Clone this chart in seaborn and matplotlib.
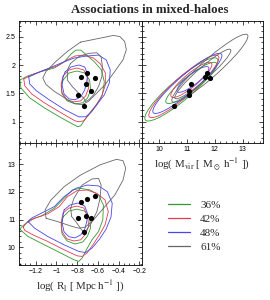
import numpy as np
import matplotlib
matplotlib.use("Agg")
import matplotlib.pyplot as plt
import seaborn as sns
from matplotlib.patches import Ellipse
from matplotlib.lines import Line2D
from matplotlib.ticker import MultipleLocator, FuncFormatter

OUT_PATH = "out.png"

LEVELS = ["36%", "42%", "48%", "61%"]
COLORS = ["#2f9a2f", "#e63a55", "#4646ee", "#666666"]

# best-fit points (log R, y, log Mvir)
pt_logR = [-0.758, -0.705, -0.632, -0.717, -0.664, -0.790, -0.730]
pt_y = [1.794, 1.859, 1.776, 1.659, 1.541, 1.471, 1.282]
pt_logM = [11.64, 11.73, 11.84, 11.14, 11.06, 11.06, 10.54]

# ---- top-left panel: log R vs y (outer / inner contour per level)
tl_green_out_x = [-1.351, -1.276, -1.162, -1.020, -0.926, -0.859, -0.812, -0.765, -0.708, -0.632, -0.566, -0.538,
                  -0.557, -0.613, -0.670, -0.727, -0.765, -0.793, -0.831, -0.954, -1.115, -1.257, -1.342]
tl_green_out_y = [1.736, 1.807, 1.877, 1.948, 2.054, 2.195, 2.265, 2.265, 2.177, 2.054, 1.913, 1.701,
                  1.472, 1.296, 1.172, 1.031, 0.925, 0.907, 0.943, 1.066, 1.242, 1.419, 1.595]
tl_red_out_x = [-1.314, -1.238, -1.115, -0.992, -0.897, -0.822, -0.736, -0.642, -0.576, -0.528, -0.528,
                -0.566, -0.623, -0.680, -0.736, -0.784, -0.822, -0.954, -1.115, -1.238, -1.304]
tl_red_out_y = [1.754, 1.825, 1.913, 1.983, 2.089, 2.160, 2.177, 2.124, 2.019, 1.860, 1.648,
                1.437, 1.278, 1.137, 1.013, 0.996, 1.013, 1.154, 1.331, 1.489, 1.631]
tl_blue_out_x = [-1.266, -1.181, -1.068, -0.954, -0.831, -0.708, -0.595, -0.519, -0.481, -0.490,
                 -0.538, -0.604, -0.661, -0.718, -0.784, -0.916, -1.068, -1.191, -1.257]
tl_blue_out_y = [1.789, 1.860, 1.948, 2.036, 2.124, 2.160, 2.177, 2.089, 1.913, 1.683,
                 1.472, 1.313, 1.172, 1.084, 1.084, 1.207, 1.384, 1.542, 1.666]
tl_gray_out_x = [-0.768, -0.579, -0.452, -0.389, -0.342, -0.326, -0.358, -0.437, -0.531, -0.626,
                 -0.689, -0.752, -0.815, -0.894, -1.020, -1.099, -1.131, -1.099, -1.004, -0.894]
tl_gray_out_y = [2.406, 2.476, 2.524, 2.506, 2.418, 2.271, 2.094, 1.888, 1.653, 1.476,
                 1.359, 1.300, 1.312, 1.388, 1.535, 1.653, 1.771, 1.888, 2.065, 2.241]

tl_green_in_x = [-0.935, -0.878, -0.803, -0.727, -0.680, -0.670, -0.699, -0.746, -0.822, -0.897, -0.945, -0.954]
tl_green_in_y = [1.736, 1.860, 1.895, 1.860, 1.736, 1.560, 1.419, 1.331, 1.313, 1.366, 1.489, 1.631]
tl_red_in_x = [-0.935, -0.878, -0.803, -0.736, -0.699, -0.689, -0.718, -0.765, -0.831, -0.897, -0.945, -0.954]
tl_red_in_y = [1.807, 1.913, 1.948, 1.913, 1.772, 1.595, 1.454, 1.366, 1.348, 1.384, 1.507, 1.666]
tl_blue_in_x = [-0.916, -0.859, -0.784, -0.727, -0.699, -0.708, -0.727, -0.765, -0.822, -0.878, -0.926, -0.945, -0.935]
tl_blue_in_y = [1.877, 1.966, 2.001, 1.966, 1.842, 1.701, 1.560, 1.437, 1.384, 1.401, 1.489, 1.648, 1.789]
tl_gray_in_x = [-0.863, -0.784, -0.689, -0.610, -0.569, -0.557, -0.562, -0.594, -0.642, -0.689,
                -0.721, -0.736, -0.784, -0.847, -0.894, -0.894]
tl_gray_in_y = [2.030, 2.148, 2.207, 2.218, 2.148, 1.971, 1.795, 1.619, 1.472, 1.384,
                1.354, 1.413, 1.501, 1.619, 1.736, 1.913]

# ---- bottom-left panel: log R vs log Mvir
bl_green_out_x = [-1.351, -1.336, -1.257, -1.146, -1.020, -0.926, -0.847, -0.768, -0.673, -0.594, -0.547,
                  -0.553, -0.594, -0.657, -0.711, -0.752, -0.784, -0.831, -0.957, -1.115, -1.273]
bl_green_out_y = [10.65, 10.73, 10.99, 11.13, 11.41, 11.77, 12.07, 12.13, 12.07, 11.89, 11.53,
                  10.99, 10.57, 10.27, 9.91, 9.61, 9.49, 9.55, 9.79, 10.09, 10.39]
bl_red_out_x = [-1.320, -1.288, -1.210, -1.083, -0.973, -0.894, -0.799, -0.705, -0.610, -0.531, -0.500,
                -0.531, -0.585, -0.648, -0.705, -0.752, -0.799, -0.926, -1.083, -1.225, -1.304]
bl_red_out_y = [10.73, 10.87, 11.05, 11.21, 11.47, 11.83, 12.05, 12.07, 11.95, 11.71, 11.29,
                10.81, 10.45, 10.09, 9.79, 9.67, 9.69, 9.91, 10.21, 10.45, 10.61]
bl_blue_out_x = [-1.273, -1.241, -1.146, -1.020, -0.926, -0.815, -0.705, -0.594, -0.509, -0.462,
                 -0.474, -0.522, -0.585, -0.657, -0.721, -0.784, -0.926, -1.083, -1.209]
bl_blue_out_y = [10.93, 11.05, 11.23, 11.47, 11.83, 12.13, 12.25, 12.22, 12.01, 11.59,
                 11.09, 10.65, 10.29, 9.97, 9.81, 9.85, 10.09, 10.39, 10.69]
bl_gray_out_x = [-1.099, -1.109, -1.052, -0.926, -0.768, -0.579, -0.421, -0.358, -0.332, -0.358,
                 -0.437, -0.547, -0.642, -0.721, -0.784, -0.862, -0.989]
bl_gray_out_y = [11.05, 11.35, 11.71, 12.19, 12.61, 12.98, 13.18, 13.13, 12.86, 12.43,
                 11.89, 11.41, 10.99, 10.73, 10.69, 10.77, 10.93]

bl_green_in_x = [-0.935, -0.878, -0.803, -0.727, -0.680, -0.670, -0.699, -0.746, -0.822, -0.897, -0.945, -0.954]
bl_green_in_y = [11.10, 11.31, 11.38, 11.31, 11.06, 10.70, 10.41, 10.19, 10.12, 10.23, 10.48, 10.81]
bl_red_in_x = [-0.935, -0.878, -0.803, -0.736, -0.699, -0.689, -0.718, -0.765, -0.831, -0.897, -0.945, -0.954]
bl_red_in_y = [11.24, 11.42, 11.49, 11.42, 11.13, 10.77, 10.48, 10.27, 10.23, 10.30, 10.56, 10.92]
bl_blue_in_x = [-0.926, -0.869, -0.793, -0.727, -0.699, -0.708, -0.727, -0.765, -0.822, -0.878, -0.926, -0.945, -0.935]
bl_blue_in_y = [11.35, 11.53, 11.60, 11.49, 11.21, 10.92, 10.66, 10.45, 10.34, 10.38, 10.56, 10.88, 11.17]
bl_gray_in_x = [-0.862, -0.831, -0.752, -0.657, -0.594, -0.569, -0.579, -0.610, -0.664,
                -0.721, -0.758, -0.809, -0.853]
bl_gray_in_y = [11.41, 11.77, 12.25, 12.47, 12.49, 12.25, 11.77, 11.29, 10.87,
                10.57, 10.63, 10.91, 11.11]

# ---- top-right panel: log Mvir vs y, contours read as ellipses
# centre x, centre y, long axis, short axis, tilt (deg), per level: green, red, blue, gray
tr_out_cx = [10.804, 10.893, 11.018, 11.822]
tr_out_cy = [1.569, 1.622, 1.675, 1.944]
tr_out_w = [2.807, 2.708, 2.661, 2.950]
tr_out_h = [0.44, 0.41, 0.38, 0.38]
tr_out_ang = [21.8, 22.6, 22.2, 23.0]
tr_in_cx = [11.160, 11.161, 11.215, 11.571]
tr_in_cy = [1.684, 1.737, 1.745, 1.842]
tr_in_w = [1.941, 1.569, 1.213, 2.172]
tr_in_h = [0.31, 0.28, 0.22, 0.26]
tr_in_ang = [20.2, 21.1, 19.6, 22.9]


def fmt(v, pos):
    return ("%g" % round(v, 3)).replace("-", "\u2212")


def style_axis(ax, xmaj, xmin, ymaj, ymin):
    ax.xaxis.set_major_locator(MultipleLocator(xmaj))
    ax.xaxis.set_minor_locator(MultipleLocator(xmin))
    ax.yaxis.set_major_locator(MultipleLocator(ymaj))
    ax.yaxis.set_minor_locator(MultipleLocator(ymin))
    ax.xaxis.set_major_formatter(FuncFormatter(fmt))
    ax.yaxis.set_major_formatter(FuncFormatter(fmt))
    ax.tick_params(which="both", direction="in", top=True, right=True, width=0.5,
                   labelsize=5, pad=2.5, colors="black")
    ax.tick_params(which="major", length=3)
    ax.tick_params(which="minor", length=1.6)
    for s in ax.spines.values():
        s.set_linewidth(0.6)
        s.set_color("black")


def closed(x, y):
    return list(x) + [x[0]], list(y) + [y[0]]


def main():
    sns.set_style("ticks")
    plt.rcParams["font.family"] = ["Liberation Sans", "DejaVu Sans"]
    plt.rcParams["mathtext.fontset"] = "stix"

    fig = plt.figure(figsize=(2.7, 3.0), dpi=100)
    w, h = 122.5 / 270, 122.0 / 300
    ax_tl = fig.add_axes([19 / 270, 1 - 143 / 300, w, h])
    ax_tr = fig.add_axes([141.5 / 270, 1 - 143 / 300, 121.5 / 270, h])
    ax_bl = fig.add_axes([19 / 270, 1 - 265 / 300, w, h])

    lw = 0.6
    tl = [(tl_green_out_x, tl_green_out_y, tl_green_in_x, tl_green_in_y),
          (tl_red_out_x, tl_red_out_y, tl_red_in_x, tl_red_in_y),
          (tl_blue_out_x, tl_blue_out_y, tl_blue_in_x, tl_blue_in_y),
          (tl_gray_out_x, tl_gray_out_y, tl_gray_in_x, tl_gray_in_y)]
    bl = [(bl_green_out_x, bl_green_out_y, bl_green_in_x, bl_green_in_y),
          (bl_red_out_x, bl_red_out_y, bl_red_in_x, bl_red_in_y),
          (bl_blue_out_x, bl_blue_out_y, bl_blue_in_x, bl_blue_in_y),
          (bl_gray_out_x, bl_gray_out_y, bl_gray_in_x, bl_gray_in_y)]
    for ax, sets in [(ax_tl, tl), (ax_bl, bl)]:
        for (ox, oy, ix, iy), col in zip(sets, COLORS):
            ax.plot(*closed(ox, oy), color=col, lw=lw)
            ax.plot(*closed(ix, iy), color=col, lw=lw)

    for i, col in enumerate(COLORS):
        ax_tr.add_patch(Ellipse((tr_out_cx[i], tr_out_cy[i]), tr_out_w[i], tr_out_h[i],
                                angle=tr_out_ang[i], fill=False, ec=col, lw=lw))
        ax_tr.add_patch(Ellipse((tr_in_cx[i], tr_in_cy[i]), tr_in_w[i], tr_in_h[i],
                                angle=tr_in_ang[i], fill=False, ec=col, lw=lw))

    kw = dict(color="black", s=14, linewidth=0, zorder=5, legend=False)
    sns.scatterplot(x=pt_logR, y=pt_y, ax=ax_tl, **kw)
    sns.scatterplot(x=pt_logM, y=pt_y, ax=ax_tr, **kw)
    sns.scatterplot(x=pt_logR, y=pt_logM, ax=ax_bl, **kw)

    ax_tl.set_xlim(-1.36, -0.18)
    ax_bl.set_xlim(-1.36, -0.18)
    ax_tl.set_ylim(0.62, 2.78)
    ax_tr.set_ylim(0.62, 2.78)
    ax_tr.set_xlim(9.38, 13.72)
    ax_bl.set_ylim(9.36, 13.77)

    style_axis(ax_tl, 0.2, 0.05, 0.5, 0.1)
    style_axis(ax_tr, 1, 0.2, 0.5, 0.1)
    style_axis(ax_bl, 0.2, 0.05, 1, 0.2)
    ax_tl.tick_params(labelbottom=False)
    ax_tr.tick_params(labelleft=False)

    serif = ["Liberation Serif", "DejaVu Serif"]
    ax_bl.set_xlabel(r"log( R$_{\rm l}$ [ Mpc h$^{-1}$ ])", family=serif, fontsize=7.8, labelpad=2.5)
    ax_tr.set_xlabel(r"log( M$_{\rm vir}$ [ M$_\odot$ h$^{-1}$ ])", family=serif, fontsize=7.8, labelpad=2.5)

    fig.text(0.553, 0.968, "Associations in mixed-haloes", ha="center", va="center",
             fontsize=9.3, fontweight="bold", family=serif)

    handles = [Line2D([], [], color=c, lw=0.9) for c in COLORS]
    fig.legend(handles, LEVELS, loc="upper left", bbox_to_anchor=(168 / 270, 1 - 200 / 300),
               frameon=False, prop={"family": serif, "size": 8}, handlelength=2.0,
               handletextpad=0.9, labelspacing=0.38, borderpad=0, borderaxespad=0)

    fig.savefig(OUT_PATH, dpi=100)
    plt.close(fig)


if __name__ == "__main__":
    main()
